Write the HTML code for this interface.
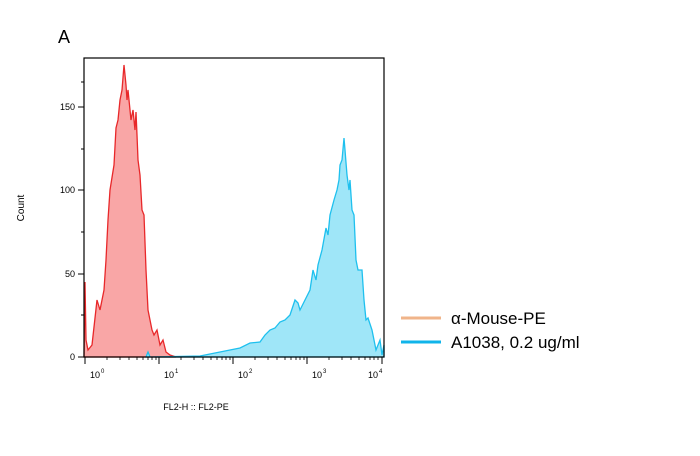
<!DOCTYPE html>
<html><head><style>body{margin:0;background:#fff;width:700px;height:451px;overflow:hidden}</style></head><body>
<svg width="700" height="451" xmlns="http://www.w3.org/2000/svg" font-family="Liberation Sans, sans-serif">
<text x="58" y="43" font-size="18" fill="#000">A</text>
<path d="M84,357 L85,282 86,340 88,350 92,345 97,300 100,310 104,290 106,260 108,220 110,190 114,165 116,128 118,120 120,100 122,90 124,65 126,85 127,100 128,90 130,110 131,120 133,110 135,130 136,112 137,135 138,160 140,175 142,210 144,215 146,270 148,310 150,320 152,330 154,335 157,330 160,345 163,340 166,352 170,355 176,357 Z" fill="#f9a6a6" stroke="#e8282a" stroke-width="1.3"/>
<path d="M146,357 L148,352 150,357 200,356 220,352 230,350 240,348 250,343 260,342 265,335 270,330 275,328 280,322 285,320 290,315 295,300 298,303 300,310 305,300 310,290 313,270 316,280 318,265 322,250 326,228 328,235 330,215 334,200 337,190 339,180 340,165 342,160 344,138 345,150 347,175 349,190 350,180 352,210 354,215 356,260 358,270 362,270 364,300 366,320 368,318 372,330 376,350 380,340 382,355 384,345 384,357 Z" fill="#9fe6f8" stroke="#1ec0ee" stroke-width="1.3"/>
<rect x="84" y="58" width="300" height="299" fill="none" stroke="#000" stroke-width="1.2"/>
<g stroke="#000" stroke-width="1">
<line x1="78" y1="357" x2="84" y2="357"/><line x1="78" y1="274" x2="84" y2="274"/><line x1="78" y1="190" x2="84" y2="190"/><line x1="78" y1="107" x2="84" y2="107"/>
<line x1="81" y1="315" x2="84" y2="315"/><line x1="81" y1="232" x2="84" y2="232"/><line x1="81" y1="149" x2="84" y2="149"/><line x1="81" y1="82" x2="84" y2="82"/>
<line x1="85" y1="357" x2="85" y2="364"/><line x1="159" y1="357" x2="159" y2="364"/><line x1="233" y1="357" x2="233" y2="364"/><line x1="307" y1="357" x2="307" y2="364"/><line x1="382" y1="357" x2="382" y2="364"/>
</g>
<g stroke="#000" stroke-width="0.8">
<path d="M107,357v3M120,357v3M129,357v3M137,357v3M143,357v3M148,357v3M152,357v3M156,357v3M181,357v3M194,357v3M203,357v3M211,357v3M217,357v3M222,357v3M226,357v3M230,357v3M255,357v3M268,357v3M277,357v3M285,357v3M291,357v3M296,357v3M300,357v3M304,357v3M329,357v3M342,357v3M351,357v3M359,357v3M365,357v3M370,357v3M374,357v3M378,357v3"/>
</g>
<g font-size="9" fill="#000" text-anchor="end">
<text x="75" y="360">0</text><text x="75" y="277">50</text><text x="75" y="193">100</text><text x="75" y="110">150</text>
</g>
<g font-size="9" fill="#000">
<text x="90" y="378">10</text><text x="101" y="373" font-size="6">0</text>
<text x="164" y="378">10</text><text x="175" y="373" font-size="6">1</text>
<text x="238" y="378">10</text><text x="249" y="373" font-size="6">2</text>
<text x="312" y="378">10</text><text x="323" y="373" font-size="6">3</text>
<text x="368" y="378">10</text><text x="379" y="373" font-size="6">4</text>
</g>
<text x="196" y="410" font-size="9" text-anchor="middle">FL2-H :: FL2-PE</text>
<text transform="translate(24,208) rotate(-90)" font-size="10" text-anchor="middle">Count</text>
<line x1="401" y1="318" x2="441" y2="318" stroke="#f0b48a" stroke-width="3"/>
<line x1="401" y1="342" x2="441" y2="342" stroke="#10b4ea" stroke-width="3"/>
<text x="451" y="324" font-size="17">α-Mouse-PE</text>
<text x="451" y="348" font-size="17">A1038, 0.2 ug/ml</text>
</svg>
</body></html>
